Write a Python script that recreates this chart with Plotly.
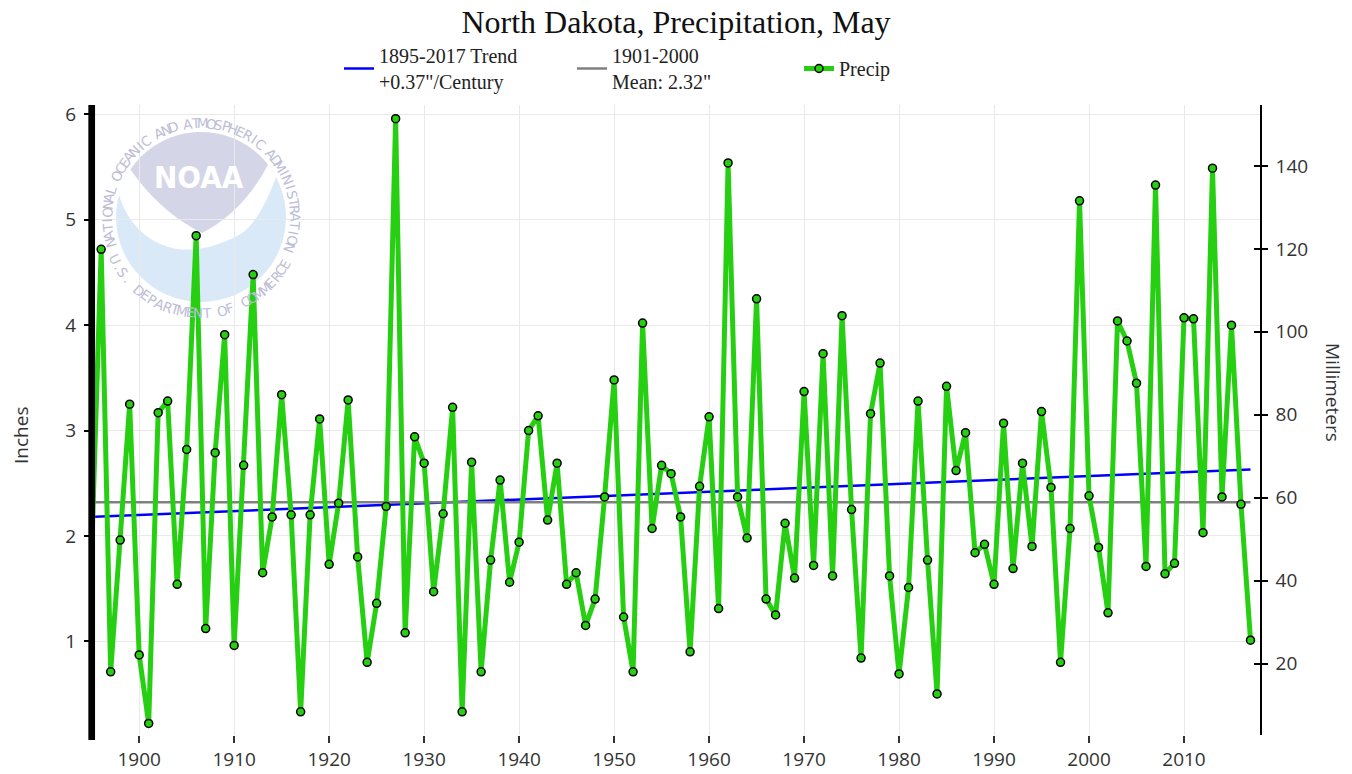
import math
import plotly.graph_objects as go

# ---------------- data ----------------
first_year = 1895
precip_in = [
    1.85, 4.72, 0.71, 1.96, 3.25, 0.87, 0.22, 3.17, 3.28, 1.54,   # 1895-1904
    2.82, 4.85, 1.12, 2.79, 3.91, 0.96, 2.67, 4.48, 1.65, 2.18,   # 1905-1914
    3.34, 2.20, 0.33, 2.20, 3.11, 1.73, 2.31, 3.29, 1.80, 0.80,   # 1915-1924
    1.36, 2.28, 5.96, 1.08, 2.94, 2.69, 1.47, 2.21, 3.22, 0.33,   # 1925-1934
    2.70, 0.71, 1.77, 2.53, 1.56, 1.94, 3.00, 3.14, 2.15, 2.69,   # 1935-1944
    1.54, 1.65, 1.15, 1.40, 2.37, 3.48, 1.23, 0.71, 4.02, 2.07,   # 1945-1954
    2.67, 2.59, 2.18, 0.90, 2.47, 3.13, 1.31, 5.54, 2.37, 1.98,   # 1955-1964
    4.25, 1.40, 1.25, 2.12, 1.60, 3.37, 1.72, 3.73, 1.62, 4.09,   # 1965-1974
    2.25, 0.84, 3.16, 3.64, 1.62, 0.69, 1.51, 3.28, 1.77, 0.50,   # 1975-1984
    3.42, 2.62, 2.98, 1.84, 1.92, 1.54, 3.07, 1.69, 2.69, 1.90,   # 1985-1994
    3.18, 2.46, 0.80, 2.07, 5.18, 2.38, 1.89, 1.27, 4.04, 3.85,   # 1995-2004
    3.45, 1.71, 5.33, 1.64, 1.74, 4.07, 4.06, 2.03, 5.49, 2.37,   # 2005-2014
    4.00, 2.30, 1.01,                                             # 2015-2017
]
years = list(range(first_year, first_year + len(precip_in)))

trend_years = [1895, 2017]
trend_in = [2.18, 2.63]
mean_years = [1895, 2017]
mean_in = [2.32, 2.32]

x_tickvals = [1900, 1910, 1920, 1930, 1940, 1950, 1960, 1970, 1980, 1990, 2000, 2010]
y_tickvals_in = [1, 2, 3, 4, 5, 6]
y_tickvals_mm = [20, 40, 60, 80, 100, 120, 140]
x_range = [1895.35, 2018]
y_range_in = [0.11, 6.09]
MM_PER_IN = 25.4
y_range_mm = [v * MM_PER_IN for v in y_range_in]

title_text = "North Dakota, Precipitation, May"
trend_name = '1895-2017 Trend<br>+0.37"/Century'
mean_name = '1901-2000<br>Mean: 2.32"'
precip_name = "Precip"

# ---------------- layout geometry ----------------
W, H = 1352, 774
L, R, T, B = 95, 92, 105, 39
PW, PH = W - L - R, H - T - B
BOTTOM_PX = H - B
AXIS_BAR_PX = 91.7   # where the thick left axis bar sits (first year)


def px2paper(px, py):
    return (px - L) / PW, (BOTTOM_PX - py) / PH


GREEN = "#27cf12"
TICK_FONT = dict(family="Open Sans, Noto Sans, DejaVu Sans", size=19, color="#333333")
LEG_FONT = dict(family="Liberation Serif, Times New Roman, serif", size=20, color="#222222")

fig = go.Figure()
fig.add_trace(go.Scatter(x=trend_years, y=trend_in, mode="lines", name=trend_name, legend="legend",
                         line=dict(color="#0000ff", width=2.5)))
fig.add_trace(go.Scatter(x=mean_years, y=mean_in, mode="lines", name=mean_name, legend="legend2",
                         line=dict(color="#808080", width=2.5)))
# the first year's marker sits under the thick axis bar in the original, so it is not shown
fig.add_trace(go.Scatter(x=years, y=precip_in, mode="lines+markers", name=precip_name, legend="legend3",
                         line=dict(color=GREEN, width=5),
                         marker=dict(size=8, color=GREEN, line=dict(color="black", width=1.5)),
                         selectedpoints=list(range(1, len(years))),
                         selected=dict(marker=dict(opacity=1)),
                         unselected=dict(marker=dict(opacity=0))))
# invisible companions so the millimetre axes are drawn
precip_mm = [v * MM_PER_IN for v in precip_in]
fig.add_trace(go.Scatter(x=years, y=precip_mm, yaxis="y2", mode="lines", opacity=0,
                         showlegend=False, hoverinfo="skip"))
fig.add_trace(go.Scatter(x=years, y=precip_mm, yaxis="y3", mode="lines", opacity=0,
                         showlegend=False, hoverinfo="skip"))

# ---------------- NOAA watermark ----------------
shapes = []
annotations = []
cx, cy, rad = 201, 217, 85


def path_from_px(points, close=True):
    parts = []
    for i, (px, py) in enumerate(points):
        x, y = px2paper(px, py)
        parts.append(("M" if i == 0 else "L") + f"{x:.5f},{y:.5f}")
    return " ".join(parts) + (" Z" if close else "")


def arc_pts(a0, a1, r=rad, n=40):
    pts = []
    for k in range(n + 1):
        a = math.radians(a0 + (a1 - a0) * k / n)
        pts.append((cx + r * math.cos(a), cy - r * math.sin(a)))
    return pts


def quad_pts(p0, c, p1, n=16):
    pts = []
    for k in range(1, n + 1):
        t = k / n
        x = (1 - t) ** 2 * p0[0] + 2 * (1 - t) * t * c[0] + t ** 2 * p1[0]
        y = (1 - t) ** 2 * p0[1] + 2 * (1 - t) * t * c[1] + t ** 2 * p1[1]
        pts.append((x, y))
    return pts


# blue disc
x0, y1 = px2paper(cx - rad, cy - rad)
x1, y0 = px2paper(cx + rad, cy + rad)
shapes.append(dict(type="circle", xref="paper", yref="paper", x0=x0, x1=x1, y0=y0, y1=y1,
                   fillcolor="#d9e9f7", line=dict(width=0), layer="below"))
# white upper part (bird swoosh)
top = arc_pts(165, 28)
p_r = top[-1]
sw = quad_pts(p_r, (258, 226), (237, 236)) + quad_pts((237, 236), (202, 254), (172, 248)) + \
     quad_pts((172, 248), (133, 238), top[0])
shapes.append(dict(type="path", xref="paper", yref="paper", path=path_from_px(top + sw),
                   fillcolor="white", line=dict(width=0), layer="below"))
# lavender shield
sh_arc = arc_pts(146, 38)
sh = sh_arc + quad_pts(sh_arc[-1], (243, 212), (202, 233)) + quad_pts((202, 233), (160, 212), sh_arc[0])
shapes.append(dict(type="path", xref="paper", yref="paper", path=path_from_px(sh),
                   fillcolor="#d5d5e8", line=dict(width=0), layer="below"))

nx, ny = px2paper(199, 177)
annotations.append(dict(text="<b>NOAA</b>", x=nx, y=ny, xref="paper", yref="paper", showarrow=False,
                        xanchor="center", yanchor="middle",
                        font=dict(family="Liberation Sans Narrow, DejaVu Sans Condensed, Arial Narrow",
                                  size=31, color="white")))

ring_font = dict(family="DejaVu Sans, Liberation Sans", size=13.5, color="#bdbdd6")
top_txt = "NATIONAL OCEANIC AND ATMOSPHERIC ADMINISTRATION"
a_start, a_end, r_top = 196.0, -19.0, 94
step = (a_start - a_end) / (len(top_txt) - 1)
for i, ch in enumerate(top_txt):
    if ch == " ":
        continue
    a = a_start - i * step
    px = cx + r_top * math.cos(math.radians(a))
    py = cy - r_top * math.sin(math.radians(a))
    xx, yy = px2paper(px, py)
    annotations.append(dict(text=ch, x=xx, y=yy, xref="paper", yref="paper", showarrow=False,
                            xanchor="center", yanchor="middle", textangle=90 - a, font=ring_font))
bot_txt = "U.S. DEPARTMENT OF COMMERCE"
b_start, b_end, r_bot = 206.0, 331.0, 96
step = (b_end - b_start) / (len(bot_txt) - 1)
for i, ch in enumerate(bot_txt):
    if ch == " ":
        continue
    a = b_start + i * step
    px = cx + r_bot * math.cos(math.radians(a))
    py = cy - r_bot * math.sin(math.radians(a))
    xx, yy = px2paper(px, py)
    annotations.append(dict(text=ch, x=xx, y=yy, xref="paper", yref="paper", showarrow=False,
                            xanchor="center", yanchor="middle", textangle=270 - a, font=ring_font))

# thick left axis bar (covers the first year like the original)
bx, _ = px2paper(AXIS_BAR_PX, 0)
shapes.append(dict(type="line", xref="paper", yref="paper", x0=bx, x1=bx,
                   y0=-0.008, y1=1.0, line=dict(color="black", width=6.7), layer="above"))

# axis titles
ax_font = dict(family="Open Sans, Noto Sans, DejaVu Sans", size=19, color="#333333")
ix, iy = px2paper(21, 436)
annotations.append(dict(text="Inches", x=ix, y=iy, xref="paper", yref="paper", showarrow=False,
                        textangle=-90, xanchor="center", yanchor="middle", font=ax_font))
mx, my = px2paper(1333, 392)
annotations.append(dict(text="Millimeters", x=mx, y=my, xref="paper", yref="paper", showarrow=False,
                        textangle=90, xanchor="center", yanchor="middle", font=ax_font))


def legend_at(px, py):
    x, y = px2paper(px, py)
    return dict(orientation="h", x=x, xanchor="left", y=y, yanchor="top",
                bgcolor="rgba(0,0,0,0)", font=LEG_FONT, valign="middle")


fig.update_layout(
    width=W, height=H,
    margin=dict(l=L, r=R, t=T, b=B, autoexpand=False),
    paper_bgcolor="white", plot_bgcolor="white",
    title=dict(text=title_text, x=(92 + 1168 / 2) / W, xanchor="center", y=1 - 22 / H, yanchor="middle",
               font=dict(family="Liberation Serif, Times New Roman, serif", size=32, color="#111111")),
    showlegend=True,
    legend=legend_at(339, 36),
    legend2=legend_at(572, 36),
    legend3=legend_at(799, 49),
    xaxis=dict(range=x_range, tickvals=x_tickvals, ticks="outside", ticklen=7, tickwidth=1.5,
               tickcolor="#333333", showgrid=True, gridcolor="#e9e9e9", gridwidth=1, showline=False,
               zeroline=False, tickfont=TICK_FONT),
    yaxis=dict(range=y_range_in, tickvals=y_tickvals_in, ticks="outside", ticklen=10, tickwidth=1.5,
               tickcolor="black", showgrid=True, gridcolor="#e9e9e9", gridwidth=1, showline=False,
               zeroline=False, tickfont=TICK_FONT, ticklabelstandoff=4),
    yaxis2=dict(range=y_range_mm, tickvals=y_tickvals_mm, overlaying="y", side="right", ticks="outside",
                ticklen=6, tickwidth=1.5, tickcolor="black", showline=True, linecolor="black",
                linewidth=1.5, showgrid=False, zeroline=False, tickfont=TICK_FONT, ticklabelstandoff=4),
    yaxis3=dict(range=y_range_mm, tickvals=y_tickvals_mm, overlaying="y", side="right", ticks="inside",
                ticklen=6, tickwidth=1.5, tickcolor="black", showline=False, showgrid=False,
                zeroline=False, showticklabels=False),
    shapes=shapes,
    annotations=annotations,
)

fig.write_html("out.html", config={"displayModeBar": False},
               post_script="document.body.style.margin='0px';document.body.style.padding='0px';")
